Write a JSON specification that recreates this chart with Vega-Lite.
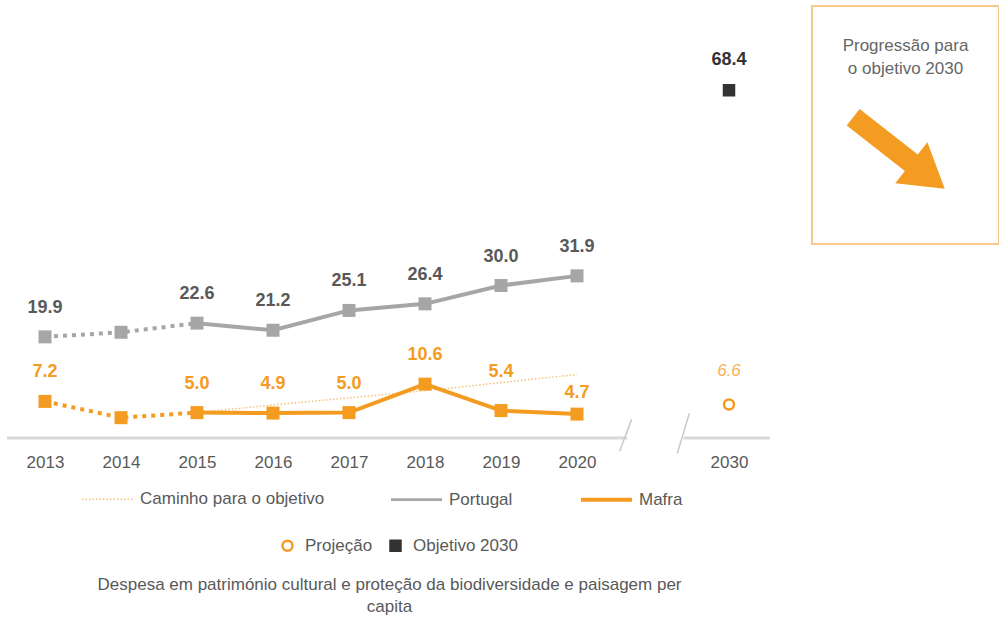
{
  "$schema": "https://vega.github.io/schema/vega-lite/v6.json",
  "padding": {"left": 5, "top": 5, "right": 0, "bottom": 0},
  "background": "white",
  "bounds": "flush",
  "spacing": 40,
  "config": {
    "view": {"stroke": null},
    "font": "Liberation Sans",
    "text": {"font": "Liberation Sans"}
  },
  "datasets": {
    "series": [
      {"serie": "Portugal", "ano": 2013, "valor": 19.9},
      {"serie": "Portugal", "ano": 2014, "valor": 20.8},
      {"serie": "Portugal", "ano": 2015, "valor": 22.6},
      {"serie": "Portugal", "ano": 2016, "valor": 21.2},
      {"serie": "Portugal", "ano": 2017, "valor": 25.1},
      {"serie": "Portugal", "ano": 2018, "valor": 26.4},
      {"serie": "Portugal", "ano": 2019, "valor": 30.0},
      {"serie": "Portugal", "ano": 2020, "valor": 31.9},
      {"serie": "Mafra", "ano": 2013, "valor": 7.2},
      {"serie": "Mafra", "ano": 2014, "valor": 4.0},
      {"serie": "Mafra", "ano": 2015, "valor": 5.0},
      {"serie": "Mafra", "ano": 2016, "valor": 4.9},
      {"serie": "Mafra", "ano": 2017, "valor": 5.0},
      {"serie": "Mafra", "ano": 2018, "valor": 10.6},
      {"serie": "Mafra", "ano": 2019, "valor": 5.4},
      {"serie": "Mafra", "ano": 2020, "valor": 4.7}
    ],
    "caminho": [
      {"serie": "Caminho para o objetivo", "ano": 2015, "valor": 5.0},
      {"serie": "Caminho para o objetivo", "ano": 2016, "valor": 6.5},
      {"serie": "Caminho para o objetivo", "ano": 2017, "valor": 7.9},
      {"serie": "Caminho para o objetivo", "ano": 2018, "valor": 9.3},
      {"serie": "Caminho para o objetivo", "ano": 2019, "valor": 10.9},
      {"serie": "Caminho para o objetivo", "ano": 2020, "valor": 12.5}
    ],
    "meta": [
      {"tipo": "Projeção", "ano": 2030, "valor": 6.6},
      {"tipo": "Objetivo 2030", "ano": 2030, "valor": 68.4}
    ]
  },
  "hconcat": [
    {
      "width": 765,
      "height": 432,
      "title": {
        "text": ["Despesa em património cultural e proteção da biodiversidade e paisagem per", "capita"],
        "orient": "bottom",
        "anchor": "middle",
        "font": "Liberation Sans",
        "fontSize": 17,
        "fontWeight": "normal",
        "color": "#595959",
        "lineHeight": 22,
        "offset": 107
      },
      "layer": [
        {
          "data": {"values": [{}]},
          "mark": {"type": "rule", "color": "#d9d9d9", "strokeWidth": 3},
          "encoding": {
            "x": {
              "datum": 2012.5,
              "type": "quantitative",
              "scale": {"domain": [2013, 2020, 2030], "range": [38, 570, 722], "nice": false, "zero": false},
              "axis": {
                "values": [2013, 2014, 2015, 2016, 2017, 2018, 2019, 2020, 2030],
                "format": "d",
                "labelFont": "Liberation Sans",
                "labelFontSize": 17,
                "labelColor": "#595959",
                "labelFlush": false,
                "labelOverlap": false,
                "labelBound": false,
                "ticks": false,
                "tickSize": 0,
                "domain": false,
                "grid": false,
                "title": null,
                "labelPadding": 16
              }
            },
            "x2": {"datum": 2023.3},
            "y": {"datum": 0, "type": "quantitative", "scale": {"domain": [0, 85], "nice": false, "zero": true}, "axis": null}
          }
        },
        {
          "data": {"values": [{}]},
          "mark": {"type": "rule", "color": "#d9d9d9", "strokeWidth": 3},
          "encoding": {
            "x": {"datum": 2027.0, "type": "quantitative"},
            "x2": {"datum": 2032.7},
            "y": {"datum": 0, "type": "quantitative"}
          }
        },
        {
          "data": {"values": [{}]},
          "mark": {"type": "rule", "color": "#c8c8c8", "strokeWidth": 1.5},
          "encoding": {
            "x": {"datum": 2023.6, "type": "quantitative"},
            "x2": {"datum": 2022.8},
            "y": {"datum": 3.7, "type": "quantitative"},
            "y2": {"datum": -2.6}
          }
        },
        {
          "data": {"values": [{}]},
          "mark": {"type": "rule", "color": "#c8c8c8", "strokeWidth": 1.5},
          "encoding": {
            "x": {"datum": 2027.4, "type": "quantitative"},
            "x2": {"datum": 2026.6},
            "y": {"datum": 4.9, "type": "quantitative"},
            "y2": {"datum": -3.0}
          }
        },
        {
          "data": {"name": "caminho"},
          "mark": {"type": "line", "strokeCap": "butt"},
          "encoding": {
            "x": {"field": "ano", "type": "quantitative"},
            "y": {"field": "valor", "type": "quantitative"},
            "color": {
              "field": "serie",
              "type": "nominal",
              "scale": {"domain": ["Caminho para o objetivo", "Portugal", "Mafra"], "range": ["#f6c27a", "#a6a6a6", "#f49b22"]},
              "legend": {
                "orient": "none",
                "legendX": 73,
                "legendY": 466,
                "direction": "horizontal",
                "columns": 3,
                "title": null,
                "symbolType": "stroke",
                "symbolSize": 2600,
                "labelFont": "Liberation Sans",
                "labelFontSize": 17,
                "labelColor": "#595959",
                "labelLimit": 400,
                "columnPadding": 60,
                "labelOffset": 5,
                "padding": 0
              }
            },
            "strokeDash": {
              "field": "serie",
              "type": "nominal",
              "scale": {"domain": ["Caminho para o objetivo", "Portugal", "Mafra"], "range": [[1.5, 2], [1, 0], [1, 0]]}
            },
            "strokeWidth": {
              "field": "serie",
              "type": "nominal",
              "scale": {"domain": ["Caminho para o objetivo", "Portugal", "Mafra"], "range": [1.5, 4, 4]}
            }
          }
        },
        {
          "data": {"name": "series"},
          "transform": [{"filter": "datum.serie === 'Portugal' && datum.ano <= 2015"}],
          "mark": {"type": "line", "strokeWidth": 4, "strokeDash": [4, 5], "strokeCap": "butt"},
          "encoding": {
            "x": {"field": "ano", "type": "quantitative"},
            "y": {"field": "valor", "type": "quantitative"},
            "color": {"field": "serie", "type": "nominal"}
          }
        },
        {
          "data": {"name": "series"},
          "transform": [{"filter": "datum.serie === 'Portugal' && datum.ano >= 2015"}],
          "mark": {"type": "line", "strokeWidth": 4},
          "encoding": {
            "x": {"field": "ano", "type": "quantitative"},
            "y": {"field": "valor", "type": "quantitative"},
            "color": {"field": "serie", "type": "nominal"}
          }
        },
        {
          "data": {"name": "series"},
          "transform": [{"filter": "datum.serie === 'Mafra' && datum.ano <= 2015"}],
          "mark": {"type": "line", "strokeWidth": 4, "strokeDash": [4, 5], "strokeCap": "butt"},
          "encoding": {
            "x": {"field": "ano", "type": "quantitative"},
            "y": {"field": "valor", "type": "quantitative"},
            "color": {"field": "serie", "type": "nominal"}
          }
        },
        {
          "data": {"name": "series"},
          "transform": [{"filter": "datum.serie === 'Mafra' && datum.ano >= 2015"}],
          "mark": {"type": "line", "strokeWidth": 4},
          "encoding": {
            "x": {"field": "ano", "type": "quantitative"},
            "y": {"field": "valor", "type": "quantitative"},
            "color": {"field": "serie", "type": "nominal"}
          }
        },
        {
          "data": {"name": "series"},
          "transform": [{"filter": "datum.serie === 'Portugal'"}],
          "mark": {"type": "point", "shape": "square", "filled": true, "opacity": 1, "size": 169, "color": "#a6a6a6"},
          "encoding": {
            "x": {"field": "ano", "type": "quantitative"},
            "y": {"field": "valor", "type": "quantitative"}
          }
        },
        {
          "data": {"name": "series"},
          "transform": [{"filter": "datum.serie === 'Mafra'"}],
          "mark": {"type": "point", "shape": "square", "filled": true, "opacity": 1, "size": 169, "color": "#f49b22"},
          "encoding": {
            "x": {"field": "ano", "type": "quantitative"},
            "y": {"field": "valor", "type": "quantitative"}
          }
        },
        {
          "data": {"name": "series"},
          "transform": [{"filter": "datum.serie === 'Portugal' && datum.ano !== 2014"}],
          "mark": {"type": "text", "dy": -29, "fontWeight": "bold", "fontSize": 18, "color": "#595959", "baseline": "middle"},
          "encoding": {
            "x": {"field": "ano", "type": "quantitative"},
            "y": {"field": "valor", "type": "quantitative"},
            "text": {"field": "valor", "type": "quantitative", "format": ".1f"}
          }
        },
        {
          "data": {"name": "series"},
          "transform": [{"filter": "datum.serie === 'Mafra' && datum.ano !== 2014 && datum.ano <= 2018"}],
          "mark": {"type": "text", "dy": -29, "fontWeight": "bold", "fontSize": 18, "color": "#f49b22", "baseline": "middle"},
          "encoding": {
            "x": {"field": "ano", "type": "quantitative"},
            "y": {"field": "valor", "type": "quantitative"},
            "text": {"field": "valor", "type": "quantitative", "format": ".1f"}
          }
        },
        {
          "data": {"name": "series"},
          "transform": [{"filter": "datum.serie === 'Mafra' && datum.ano === 2019"}],
          "mark": {"type": "text", "dy": -39, "fontWeight": "bold", "fontSize": 18, "color": "#f49b22", "baseline": "middle"},
          "encoding": {
            "x": {"field": "ano", "type": "quantitative"},
            "y": {"field": "valor", "type": "quantitative"},
            "text": {"field": "valor", "type": "quantitative", "format": ".1f"}
          }
        },
        {
          "data": {"name": "series"},
          "transform": [{"filter": "datum.serie === 'Mafra' && datum.ano === 2020"}],
          "mark": {"type": "text", "dy": -21, "fontWeight": "bold", "fontSize": 18, "color": "#f49b22", "baseline": "middle"},
          "encoding": {
            "x": {"field": "ano", "type": "quantitative"},
            "y": {"field": "valor", "type": "quantitative"},
            "text": {"field": "valor", "type": "quantitative", "format": ".1f"}
          }
        },
        {
          "data": {"name": "meta"},
          "mark": {"type": "point", "strokeWidth": 2.5, "opacity": 1, "size": 100},
          "encoding": {
            "x": {"field": "ano", "type": "quantitative"},
            "y": {"field": "valor", "type": "quantitative"},
            "shape": {
              "field": "tipo",
              "type": "nominal",
              "scale": {"domain": ["Projeção", "Objetivo 2030"], "range": ["circle", "square"]},
              "legend": {
                "orient": "none",
                "legendX": 272,
                "legendY": 531,
                "direction": "horizontal",
                "columns": 2,
                "title": null,
                "labelFont": "Liberation Sans",
                "labelFontSize": 17,
                "labelColor": "#595959",
                "labelLimit": 300,
                "columnPadding": 12,
                "labelOffset": 9,
                "symbolStrokeWidth": 2.5,
                "symbolSize": 100,
                "padding": 0
              }
            },
            "fill": {
              "field": "tipo",
              "type": "nominal",
              "scale": {"domain": ["Projeção", "Objetivo 2030"], "range": ["#ffffff", "#333333"]}
            },
            "stroke": {
              "field": "tipo",
              "type": "nominal",
              "scale": {"domain": ["Projeção", "Objetivo 2030"], "range": ["#f49b22", "#333333"]}
            }
          }
        },
        {
          "data": {"name": "meta"},
          "transform": [{"filter": "datum.tipo === 'Projeção'"}],
          "mark": {"type": "text", "dy": -33, "fontStyle": "italic", "fontSize": 17, "color": "#f6b35a", "baseline": "middle"},
          "encoding": {
            "x": {"field": "ano", "type": "quantitative"},
            "y": {"field": "valor", "type": "quantitative"},
            "text": {"field": "valor", "type": "quantitative", "format": ".1f"}
          }
        },
        {
          "data": {"name": "meta"},
          "transform": [{"filter": "datum.tipo === 'Objetivo 2030'"}],
          "mark": {"type": "text", "dy": -30, "fontWeight": "bold", "fontSize": 18, "color": "#333333", "baseline": "middle"},
          "encoding": {
            "x": {"field": "ano", "type": "quantitative"},
            "y": {"field": "valor", "type": "quantitative"},
            "text": {"field": "valor", "type": "quantitative", "format": ".1f"}
          }
        }
      ]
    },
    {
      "width": 187,
      "height": 238,
      "view": {"stroke": "#f5c98e", "strokeWidth": 2},
      "data": {"values": [{"rotulo": "Progressão para\no objetivo 2030"}]},
      "layer": [
        {
          "mark": {"type": "text", "lineBreak": "\n", "align": "center", "baseline": "top", "fontSize": 17, "lineHeight": 23, "color": "#666666"},
          "encoding": {
            "x": {"datum": 0.5, "type": "quantitative", "scale": {"domain": [0, 1]}, "axis": null},
            "y": {"datum": 0.865, "type": "quantitative", "scale": {"domain": [0, 1]}, "axis": null},
            "text": {"field": "rotulo", "type": "nominal"}
          }
        },
        {
          "mark": {
            "type": "point",
            "shape": "M-0.18,-1L0.18,-1L0.18,0.27L0.45,0.27L0,1L-0.45,0.27L-0.18,0.27Z",
            "filled": true,
            "opacity": 1,
            "color": "#f49b22",
            "size": 13500,
            "angle": 308
          },
          "encoding": {
            "x": {"datum": 0.465, "type": "quantitative"},
            "y": {"datum": 0.382, "type": "quantitative"}
          }
        }
      ]
    }
  ]
}
